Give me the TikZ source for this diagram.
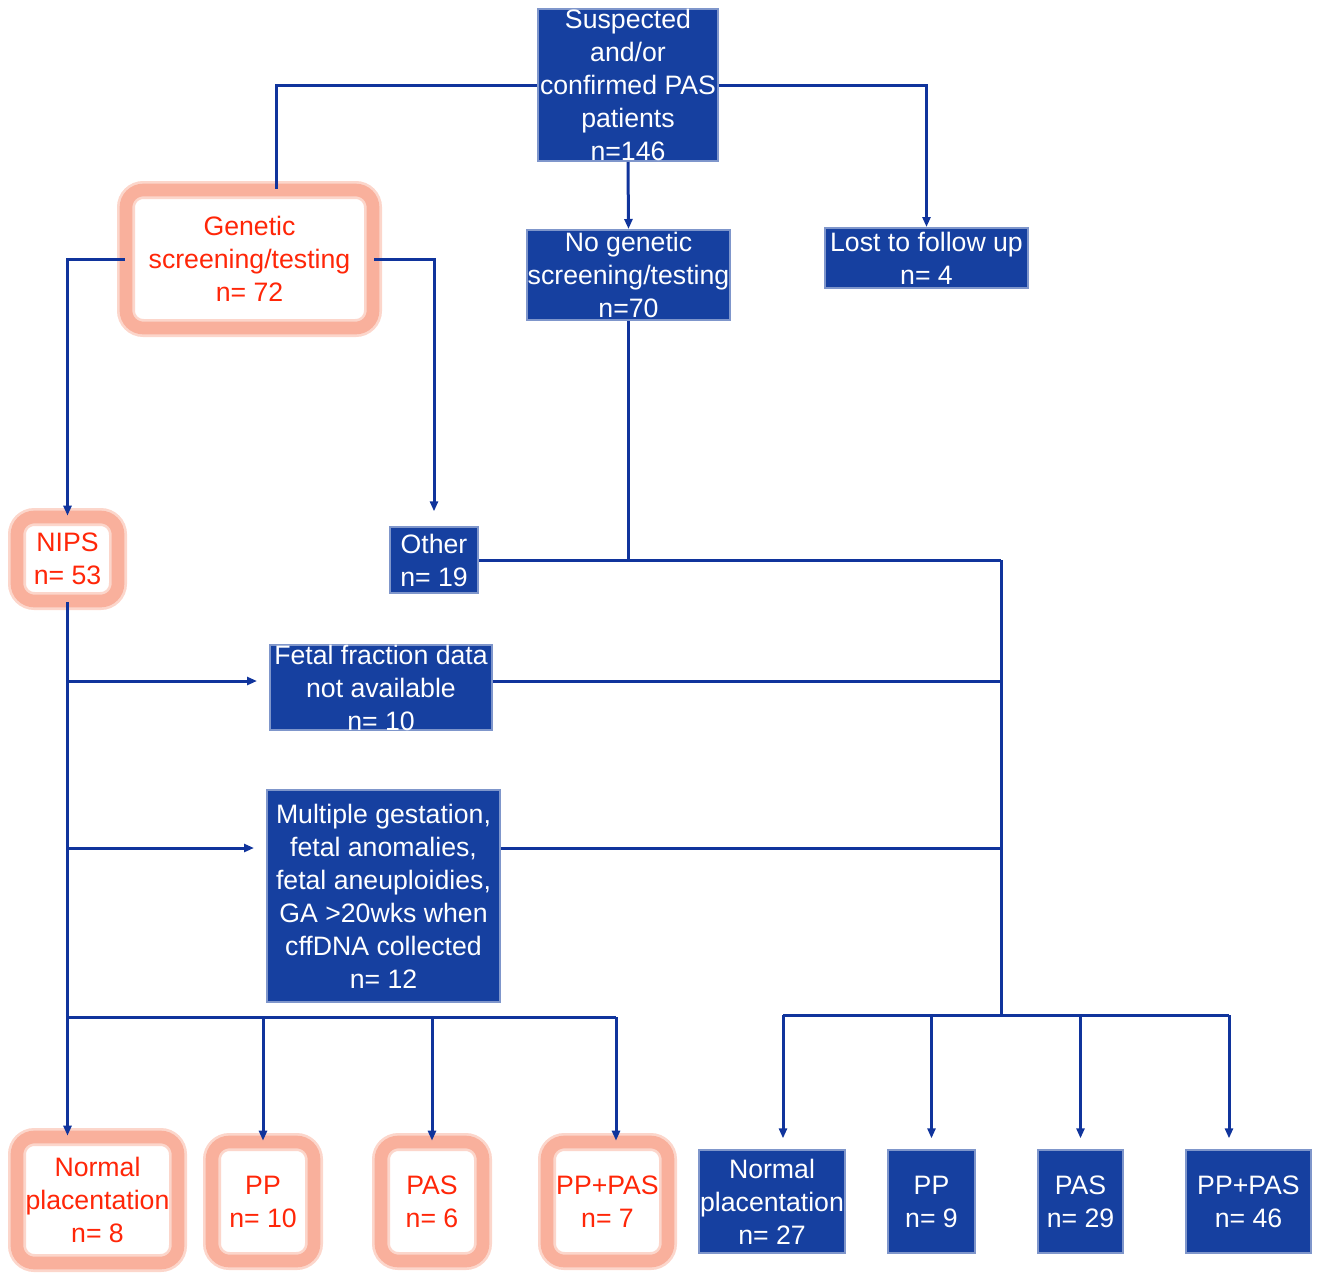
\documentclass[tikz,border=0pt]{standalone}
\usepackage{fontspec}
\setmainfont{Liberation Sans}
\usetikzlibrary{arrows.meta}

\definecolor{boxblue}{RGB}{22,64,160}
\definecolor{lineblue}{RGB}{16,52,156}
\definecolor{glow}{RGB}{249,176,156}
\definecolor{glowsoft}{RGB}{252,214,203}
\definecolor{textred}{RGB}{255,38,8}

\tikzset{every picture/.style={line width=0.75pt}}
\tikzset{
  bluebox/.style={fill=boxblue, draw=boxblue!55, line width=1.5pt, text=white, align=center, inner sep=0pt, font=\fontsize{20}{24.75}\selectfont},
  glowbox/.style={draw=glowsoft, double=glow, double distance=9.5pt, line width=2pt, rounded corners=13pt, fill=white, text=textred, align=center, inner sep=0pt, font=\fontsize{20}{24.75}\selectfont},
  link/.style={draw=lineblue, line width=2.25pt},
  arr/.style={link, -{Triangle[length=7.5pt,width=6pt]}}
}

\begin{document}
\begin{tikzpicture}[x=0.75pt,y=0.75pt,yscale=-1,xscale=1]
\useasboundingbox (0,0) rectangle (1325,1279);

% Boxes, top row
\node [bluebox, minimum width=135pt, minimum height=109.5pt] (top) at (628,85) {Suspected\\and/or\\confirmed PAS\\patients\\n=146};
\node [glowbox, minimum width=185.25pt, minimum height=103.5pt] (gen) at (249.5,259) {Genetic\\screening/testing\\n= 72};
\node [bluebox, minimum width=152.25pt, minimum height=67.5pt] (nogen) at (628.5,275) {No genetic\\screening/testing\\n=70};
\node [bluebox, minimum width=152.25pt, minimum height=45pt] (lost) at (926.5,258) {Lost to follow up\\n= 4};

% Boxes, middle
\node [glowbox, minimum width=75.75pt, minimum height=63pt] (nips) at (67.5,559) {NIPS\\n= 53};
\node [bluebox, minimum width=66pt, minimum height=49.5pt] (other) at (434,560) {Other\\n= 19};
\node [bluebox, minimum width=166.5pt, minimum height=63.75pt] (frac) at (381,687.5) {Fetal fraction data\\not available\\n= 10};
\node [bluebox, minimum width=174.75pt, minimum height=159pt] (multi) at (383.5,896) {Multiple gestation,\\fetal anomalies,\\fetal aneuploidies,\\GA >20wks when\\cffDNA collected\\n= 12};

% Boxes, bottom left
\node [glowbox, minimum width=120.75pt, minimum height=94.5pt] (ln) at (97.5,1200) {Normal\\placentation\\n= 8};
\node [glowbox, minimum width=76.5pt, minimum height=89.25pt] (lpp) at (263,1201.5) {PP\\n= 10};
\node [glowbox, minimum width=76.5pt, minimum height=89.25pt] (lpas) at (432,1201.5) {PAS\\n= 6};
\node [glowbox, minimum width=90.75pt, minimum height=89.25pt] (lppas) at (607.5,1201.5) {PP+PAS\\n= 7};

% Boxes, bottom right
\node [bluebox, minimum width=109.5pt, minimum height=77.25pt] (rn) at (772,1201.5) {Normal\\placentation\\n= 27};
\node [bluebox, minimum width=65.25pt, minimum height=77.25pt] (rpp) at (931.5,1201.5) {PP\\n= 9};
\node [bluebox, minimum width=63.75pt, minimum height=77.25pt] (rpas) at (1080.5,1201.5) {PAS\\n= 29};
\node [bluebox, minimum width=93.75pt, minimum height=77.25pt] (rppas) at (1248.5,1201.5) {PP+PAS\\n= 46};

% Turning points
\coordinate (gdrop) at (276,0);
\coordinate (jn) at (1001,560);
\coordinate (jb) at (1001,1015);
\coordinate (lb) at (66,1017);
\coordinate (frow) at (0,681);
\coordinate (mrow) at (0,848);
\coordinate (lppasx) at (616,0);
\coordinate (rnx) at (783,0);
\coordinate (rppasx) at (1229,0);

% Connectors from the top
\draw [link] (top.west) -| (gdrop |- gen.north);
\draw [arr] (top.east) -| (lost.north);
\draw [arr] (top.south) -- (nogen.north);
\draw [arr] (gen.west) -| (nips.north);
\draw [arr, shorten >=11pt] (gen.east) -| (other.north);

% Right hand trunk
\draw [link] (nogen.south) -- (nogen.south |- jn);
\draw [link] (other.east) -- (jn);
\draw [link] (jn) -- (jb);
\draw [link] (frac.east |- frow) -- (jn |- frow);
\draw [link] (multi.east |- mrow) -- (jn |- mrow);
\draw [link] (rnx |- jb) -- (rppasx |- jb);
\draw [arr, shorten >=8pt] (rnx |- jb) -- (rnx |- rn.north);
\draw [arr, shorten >=8pt] (rpp.north |- jb) -- (rpp.north);
\draw [arr, shorten >=8pt] (rpas.north |- jb) -- (rpas.north);
\draw [arr, shorten >=8pt] (rppasx |- jb) -- (rppasx |- rppas.north);

% Left hand trunk
\draw [arr] (nips.south) -- (nips.south |- ln.north);
\draw [arr, shorten >=9pt] (nips.south |- frow) -- (frac.west |- frow);
\draw [arr, shorten >=9pt] (nips.south |- mrow) -- (multi.west |- mrow);
\draw [link] (lb) -- (lppasx |- lb);
\draw [arr] (lpp.north |- lb) -- (lpp.north);
\draw [arr] (lpas.north |- lb) -- (lpas.north);
\draw [arr] (lppasx |- lb) -- (lppasx |- lppas.north);

\end{tikzpicture}
\end{document}
